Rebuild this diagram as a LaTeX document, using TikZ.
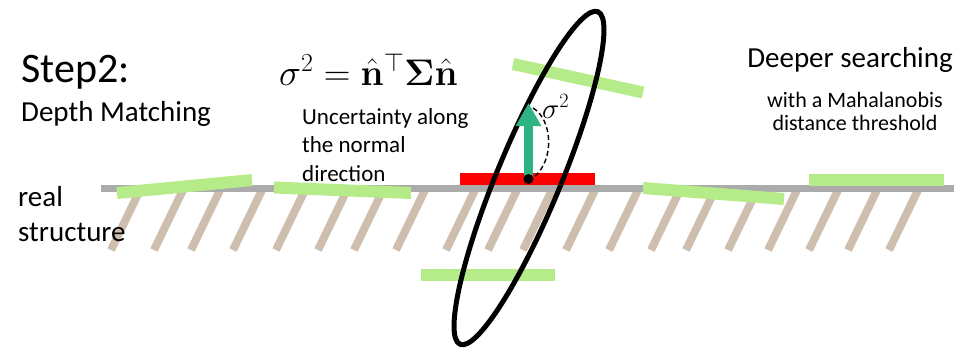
\documentclass[tikz,border=0pt]{standalone}
\usepackage{fix-cm}
\usepackage[no-math]{fontspec}
\newfontfamily\calibri{Carlito}
\usetikzlibrary{arrows.meta}
\definecolor{ink}{HTML}{000000}
\definecolor{ground}{HTML}{ABABAB}
\definecolor{hatch}{HTML}{CDBEAE}
\definecolor{patch}{HTML}{B5EC89}
\definecolor{match}{HTML}{FF0000}
\definecolor{normal}{HTML}{2DB482}
\newcommand{\Size}[1]{\fontsize{#1}{#1}\selectfont}
\newcommand{\GroundY}{188.5}

\tikzset{
  txt/.style={anchor=base west, inner sep=0pt, font=\calibri, ink},
  patchbar/.style={patch, line width=12pt},
  hatchline/.style={hatch, line width=8pt},
}

\begin{document}
\begin{tikzpicture}[x=1pt, y=-1pt]
\useasboundingbox (0,0) rectangle (971,351);

% --- Real structure: hatching under the surface ------------------------------
\foreach \x in {140, 183, 220, 262, 305, 347, 383, 425, 475, 517, 552, 595, 638, 680, 715, 757, 797, 838, 877, 918} {
  \draw[hatchline] (\x,190) -- ++(-29,60);
}
\draw[ground, line width=7pt] (101,\GroundY) -- (954,\GroundY);

% --- Titles ------------------------------------------------------------------
\node[txt, font=\calibri\Size{42}] (step) at (21,82) {Step2:};
\node[txt, font=\calibri\Size{29}] (depth) at (21,121) {Depth Matching};
\node[txt, font=\Size{37}] (formula) at (279,85) {$\sigma^2=\hat{\mathbf{n}}^\top\mathbf{\Sigma}\hat{\mathbf{n}}$};
\foreach \y/\name/\text in {124/unc1/Uncertainty along, 152/unc2/the normal, 181/unc3/direction} {
  \node[txt, font=\calibri\Size{23}] (\name) at (302,\y) {\text};
}
\node[txt, font=\calibri\Size{29}] (real) at (18,206) {real};
\node[txt, font=\calibri\Size{29}] (structure) at (18,241) {structure};
\node[txt, anchor=base, font=\calibri\Size{29}] (deeper) at (850,67) {Deeper searching};
\node[txt, anchor=base, font=\calibri\Size{22}] (maha) at (855,107) {with a Mahalanobis};
\node[txt, anchor=base, font=\calibri\Size{22}] (thresh) at (855,130) {distance threshold};

% --- Depth patches ------------------------------------------------------------
\draw[patchbar] (117,193) -- (252,180);
\draw[patchbar] (274,187.5) -- (411,193);
\draw[patchbar] (643,188) -- (784,199);
\draw[patchbar] (809,180) -- (944,180);
\draw[patchbar] (513,64) -- (643,92.5);
\draw[patchbar] (421,275) -- (555,275);
\fill[match] (460,173) rectangle (595,185);

% --- Uncertainty ellipse --------------------------------------------------------
\begin{scope}[shift={(529,178)}, rotate=67.5]
  \draw[ink, line width=5pt] (0,0) ellipse [x radius=180, y radius=32];
\end{scope}

% --- Normal direction -------------------------------------------------------------
\coordinate (base) at (528.5,179);
\coordinate (tip) at (528.5,103);
\draw[normal, line width=9pt, -{Triangle[width=24pt, length=23pt]}] (base) -- (tip);
\draw[ink, line width=1.4pt, dash pattern=on 5pt off 3pt] (533,108) .. controls (553,120) and (554,160) .. (535,176);
\fill[ink] (base) circle (5);
\node[txt, font=\Size{29}] (sigma) at (542,118) {$\sigma^2$};

\end{tikzpicture}
\end{document}
